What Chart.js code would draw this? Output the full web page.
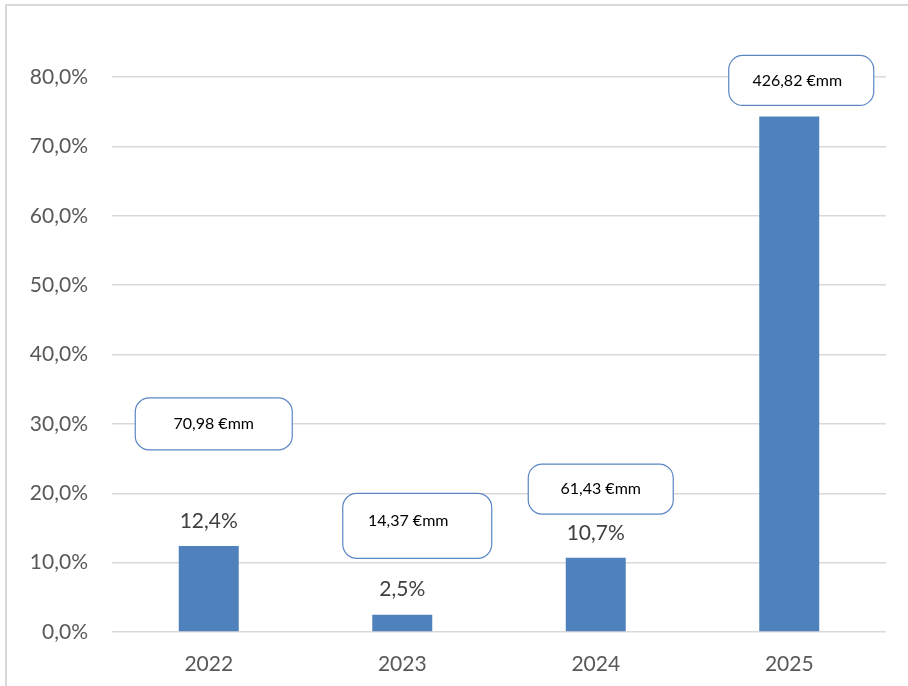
<!DOCTYPE html>
<html>
<head>
<meta charset="utf-8">
<script src="https://cdn.jsdelivr.net/npm/chart.js@4/dist/chart.umd.min.js"></script>
<style>
  html, body { margin: 0; padding: 0; background: #fff; }
  #wrap { width: 908px; height: 686px; }
</style>
</head>
<body>
<div id="wrap"><canvas id="myChart" width="908" height="686"></canvas></div>
<script>
var years = ['2022', '2023', '2024', '2025'];
var growth = [12.4, 2.5, 10.7, 74.3];
var showPct = [true, true, true, false];
var amounts = ['70,98 €mm', '14,37 €mm', '61,43 €mm', '426,82 €mm'];
var yTicks = [0, 10, 20, 30, 40, 50, 60, 70, 80];

// callout placement: [x offset px from category centre, y centre in % units, width, height, text dx, text dy]
var callouts = [
    [5, 30, 157, 52, 0, 0],
    [15, 15.3, 149, 65, -9, -5],
    [5, 20.6, 145, 50, 0, 0],
    [12, 79.5, 145, 50, -4, 0]
];

function fmtPct(v) {
    return v.toFixed(1).replace('.', ',') + '%';
}

var decor = {
    id: 'decor',
    beforeDraw: function (chart) {
        var c = chart.ctx;
        c.save();
        c.strokeStyle = '#d9d9d9';
        c.lineWidth = 2;
        c.beginPath();
        c.moveTo(6, 2000);
        c.lineTo(6, 5);
        c.lineTo(2000, 5);
        c.stroke();
        c.restore();
    },
    afterDatasetsDraw: function (chart) {
        var c = chart.ctx;
        var meta = chart.getDatasetMeta(0);
        var xs = chart.scales.x, ys = chart.scales.y;
        c.save();
        c.textAlign = 'center';
        c.textBaseline = 'middle';
        c.fillStyle = '#404040';
        c.font = '21px Lato';
        meta.data.forEach(function (bar, i) {
            if (!showPct[i]) return;
            c.fillText(fmtPct(growth[i]), bar.x, bar.y - 25);
        });
        callouts.forEach(function (cb, i) {
            var cx = xs.getPixelForValue(i) + cb[0];
            var cy = ys.getPixelForValue(cb[1]);
            var w = cb[2], h = cb[3];
            c.beginPath();
            c.roundRect(cx - w / 2, cy - h / 2, w, h, 14);
            c.fillStyle = '#ffffff';
            c.fill();
            c.strokeStyle = '#5b86c4';
            c.lineWidth = 1.2;
            c.stroke();
            c.fillStyle = '#000000';
            c.font = '16px Lato';
            c.fillText(amounts[i], cx + cb[4], cy + cb[5]);
        });
        c.restore();
    }
};

var ctx = document.getElementById('myChart').getContext('2d');
var chart = new Chart(ctx, {
    type: 'bar',
    data: {
        labels: years,
        datasets: [{
            data: growth,
            backgroundColor: '#4f81bd',
            barPercentage: 0.31,
            categoryPercentage: 1
        }]
    },
    options: {
        responsive: false,
        animation: false,
        layout: { padding: { top: 77, right: 22, left: 0, bottom: 0 } },
        plugins: {
            legend: { display: false },
            tooltip: { enabled: false }
        },
        scales: {
            x: {
                grid: { display: false },
                border: { display: false },
                ticks: { color: '#595959', font: { family: 'Lato', size: 21 }, padding: 12 },
                afterFit: function (s) { s.height = 54; }
            },
            y: {
                min: 0,
                max: 80,
                afterBuildTicks: function (s) {
                    s.ticks = yTicks.map(function (v) { return { value: v }; });
                },
                grid: { color: '#d9d9d9', lineWidth: 1.5, drawTicks: false },
                border: { display: false },
                ticks: {
                    color: '#595959',
                    font: { family: 'Lato', size: 21 },
                    padding: 24,
                    callback: function (v) { return fmtPct(v); }
                },
                afterFit: function (s) { s.width = 112; }
            }
        }
    },
    plugins: [decor]
});
</script>
</body>
</html>
